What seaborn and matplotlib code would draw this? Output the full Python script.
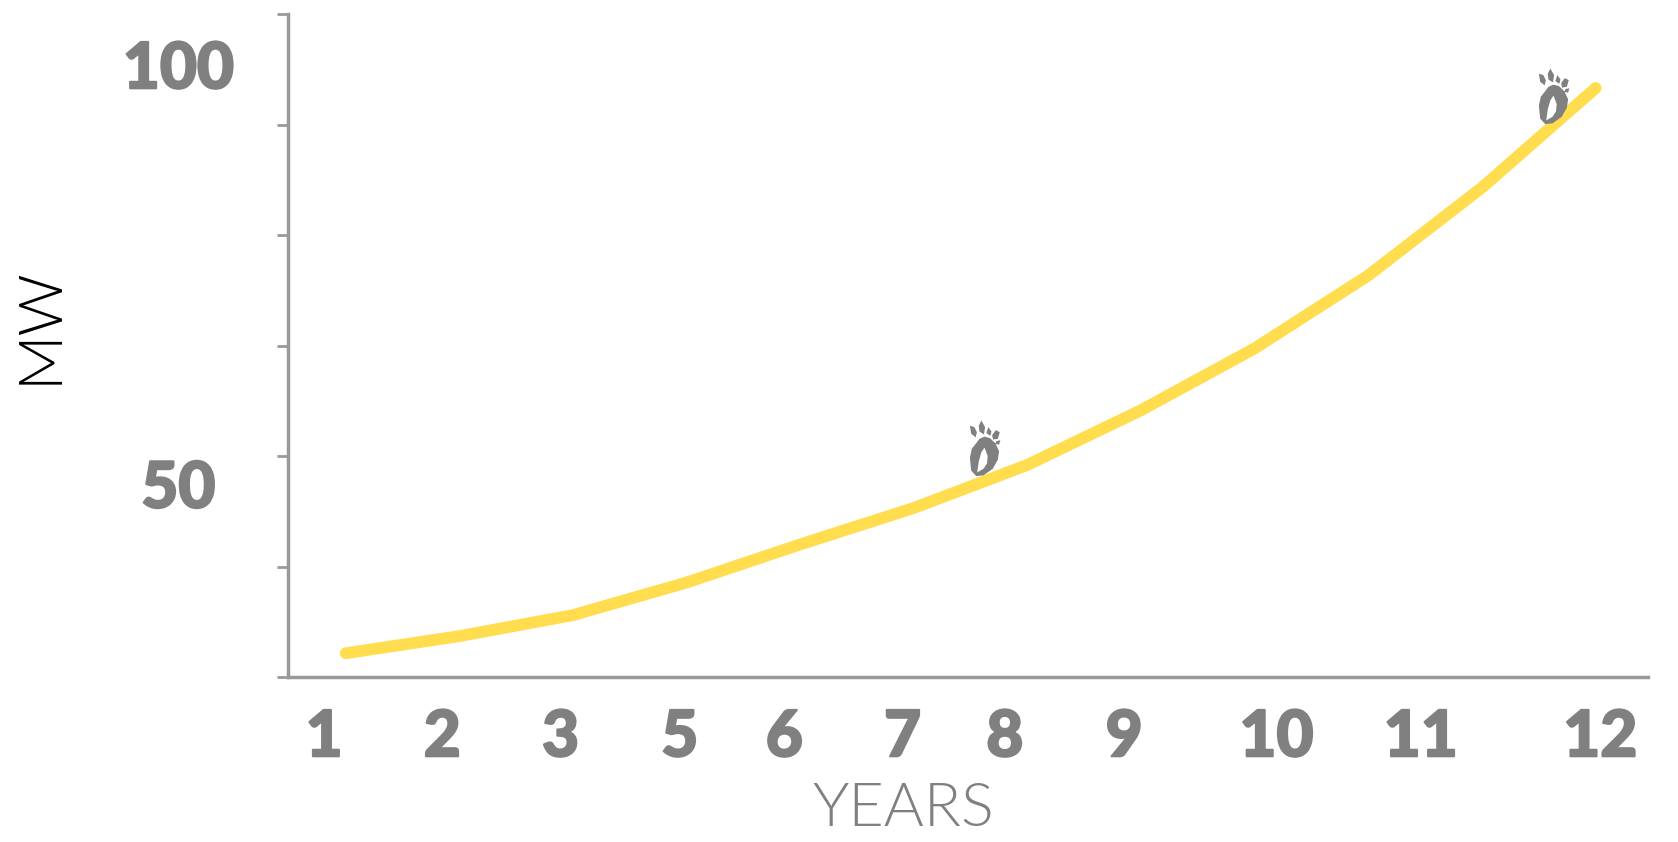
#!/usr/bin/env python3
import matplotlib
matplotlib.use('Agg')
import matplotlib.patheffects as pe
import matplotlib.pyplot as plt
import matplotlib.path as mpath
import numpy as np
import pandas as pd
import seaborn as sns

years = [1, 2, 3, 4, 5, 6, 7, 8, 9, 10, 11, 12]
mw = [4.3, 7.4, 11.2, 17.1, 24.0, 30.6, 38.4, 48.3, 59.5, 72.7, 88.6, 106.6]
x_labels = ['1', '2', '3', '5', '6', '7', '8', '9', '10', '11', '12']
x_label_pos = [0.81, 1.85, 2.89, 3.94, 4.86, 5.90, 6.80, 7.85, 9.19, 10.46, 12.04]
y_labels = ['100', '50']
y_label_pos = [109.9, 34.0]
y_ticks = [0, 20, 40, 60, 80, 100, 120]
foot_x = [6.62, 11.62]
foot_y = [41.1, 104.8]

INK = '#808080'
AXIS = '#999999'
YELLOW = '#ffdd4f'


def footprint():
    # traced by eye, y points down in these numbers
    body = [(88, 72), (105, 76), (122, 90), (134, 112), (130, 135), (114, 160), (85, 178),
            (62, 180), (46, 165), (42, 130), (48, 105), (62, 90), (72, 78)]
    hole = [(65, 170), (85, 160), (96, 145), (98, 125), (88, 102), (78, 115), (70, 140)]
    toes = [
        [(42, 42), (56, 46), (64, 60), (60, 74), (46, 64)],
        [(78, 28), (90, 46), (86, 66), (72, 58), (70, 42)],
        [(100, 46), (110, 58), (106, 70), (94, 62)],
        [(124, 54), (136, 60), (130, 78), (115, 80), (112, 68)],
        [(138, 82), (134, 94), (122, 92), (126, 84)],
    ]
    parts = []
    for poly in [body, hole] + toes:
        v = np.array(poly + [poly[0]], dtype=float)
        v = (v - [88, 110]) * [1, -1.15]
        parts.append(mpath.Path(v, closed=True))
    return mpath.Path.make_compound_path(*parts)


sns.set_theme(style='white')
plt.rcParams['font.family'] = ['Lato', 'DejaVu Sans']

df = pd.DataFrame({'year': years, 'mw': mw})

fig = plt.figure(figsize=(16.78, 8.42), dpi=100)
ax = fig.add_axes([288 / 1678, 1 - 677 / 842, (1648 - 288) / 1678, (677 - 14) / 842])

sns.lineplot(data=df, x='year', y='mw', ax=ax, color=YELLOW, lw=8.5,
             solid_capstyle='round', solid_joinstyle='miter', errorbar=None)

ax.scatter(foot_x, foot_y, s=1860, c=INK, marker=footprint(), linewidths=0, zorder=5)

ax.set_xlim(0.492, 12.46)
ax.set_ylim(0, 120)
ax.set_yticks(y_ticks)
ax.set_yticklabels([])
ax.set_xticks([])
ax.set_xlabel('')
ax.set_ylabel('')
ax.tick_params(axis='y', left=True, length=8, width=2, color=AXIS)
for side in ['top', 'right']:
    ax.spines[side].set_visible(False)
for side in ['left', 'bottom']:
    ax.spines[side].set_color(AXIS)
    ax.spines[side].set_linewidth(2.5)

heavy = [pe.withStroke(linewidth=1.5, foreground=INK)]
for pos, lab in zip(x_label_pos, x_labels):
    ax.text(pos, -11, lab, ha='center', va='center', fontsize=46, fontweight=900, color=INK,
            path_effects=heavy)
for pos, lab in zip(y_label_pos, y_labels):
    ax.text(-0.473, pos, lab, ha='center', va='center', fontsize=46, fontweight=900, color=INK,
            path_effects=heavy, clip_on=False)

fig.text(903 / 1678, 1 - 809 / 842, 'YEARS', ha='center', va='center', fontsize=44, fontweight=300, color=INK)
fig.text(40 / 1678, 1 - 325 / 842, 'MW', ha='center', va='center', rotation=90, fontsize=44, fontweight=300, color='black')

fig.savefig('out.png', dpi=100)
